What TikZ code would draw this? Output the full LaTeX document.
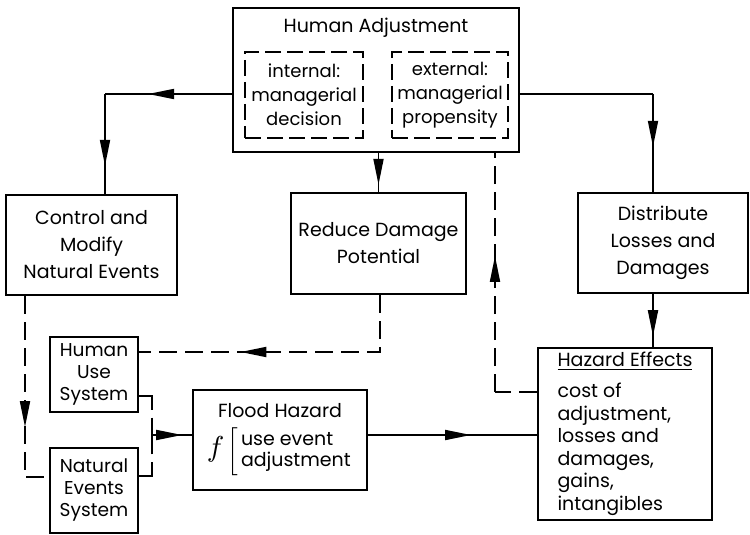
\documentclass[tikz,border=0pt]{standalone}
\usepackage{fontspec}
\setmainfont{Poppins}
\usepackage{graphicx}
\usetikzlibrary{arrows.meta,positioning,calc,decorations.markings}

\begin{document}
\begin{tikzpicture}[
    x=0.5pt, y=-0.5pt,
    font=\fontsize{9.5}{13.5}\selectfont,
    box/.style={rectangle, draw, line width=1.3pt, inner sep=0pt, align=center},
    smallbox/.style={box, font=\fontsize{9.3}{11}\selectfont},
    inner/.style={rectangle, draw, line width=1.1pt, dash pattern=on 8pt off 3pt, inner sep=0pt, align=center, font=\fontsize{9}{12}\selectfont},
    flow/.style={line width=0.9pt},
    hint/.style={flow, dash pattern=on 9pt off 4pt},
    midtip/.style={postaction={decorate}, decoration={markings, mark=at position #1 with {\arrow[solid]{Triangle[length=13pt,width=5pt]}}}}
]
    \useasboundingbox (0,0) rectangle (750,535);

    % Human Adjustment
    \node[box, minimum width=143pt, minimum height=72pt] (adjust) at (376,80) {};
    \node (adjtitle) at (376,28) {Human Adjustment};
    \node[inner, minimum width=59pt, minimum height=43pt] (internal) at (304,95) {internal:\\managerial\\decision};
    \node[inner, minimum width=58pt, minimum height=43pt] (external) at (450,95) {external:\\managerial\\propensity};

    % Responses
    \node[box, minimum width=85.5pt, minimum height=50pt] (control) at (91.5,245) {Control and\\Modify\\Natural Events};
    \node[box, minimum width=87.5pt, minimum height=50.5pt] (reduce) at (378.5,243.5) {Reduce Damage\\Potential};
    \node[box, minimum width=85pt, minimum height=50pt] (distribute) at (663,243) {Distribute\\Losses and\\Damages};

    % Systems
    \node[smallbox, minimum width=44pt, minimum height=37.5pt] (human) at (94,374.5) {Human\\Use\\System};
    \node[smallbox, minimum width=44pt, minimum height=42.5pt] (natural) at (94,490.5) {Natural\\Events\\System};

    % Hazard
    \node[box, minimum width=87pt, minimum height=50pt] (flood) at (280,440) {Flood Hazard\\[4pt]\scalebox{1.6}{$f$}$\,\left[\,\def\arraystretch{0.75}\begin{tabular}{@{}l@{}}use event\\adjustment\end{tabular}\right.$};
    \node[box, align=left, minimum width=87pt, minimum height=86pt, font=\fontsize{9.5}{11.3}\selectfont] (effects) at (625,434) {\underline{Hazard Effects}\\[4pt]cost of\\adjustment,\\losses and\\damages,\\gains,\\intangibles};

    % Adjustment choices
    \coordinate (ctlbend) at (105,94);
    \coordinate (disbend) at (653,94);
    \draw[flow, midtip=.66] (adjust.west |- ctlbend) -- (ctlbend);
    \draw[flow, midtip=.72] (ctlbend) -- (ctlbend |- control.north);
    \draw[flow, midtip=.82] (reduce.north |- adjust.south) -- (reduce.north);
    \draw[flow] (adjust.east |- disbend) -- (disbend);
    \draw[flow, midtip=.54] (disbend) -- (disbend |- distribute.north);
    \draw[flow, midtip=.8] (disbend |- distribute.south) -- (disbend |- effects.north);

    % Feedback
    \coordinate (fbbend) at (495,392);
    \draw[hint] (effects.west |- fbbend) -- (fbbend);
    \draw[hint, midtip=.57] (fbbend) -- (fbbend |- adjust.south);
    \coordinate (rdbend) at (380,352);
    \draw[hint, midtip=.66] (reduce.south -| rdbend) -- (rdbend) -- (rdbend -| human.east);
    \coordinate (cnbend) at (25,477);
    \draw[hint, midtip=.64] (control.south -| cnbend) -- (cnbend) -- (cnbend -| natural.west);

    % Into the hazard
    \coordinate (join) at (152,435);
    \draw[flow, dash pattern=on 13pt off 4pt] ($(human.south east)+(0,-17)$) -| (join);
    \draw[flow, dash pattern=on 13pt off 4pt] ($(natural.north east)+(0,29)$) -| (join);
    \draw[flow, midtip=.76] (join) -- (join -| flood.west);
    \draw[flow, midtip=.61] (flood.east |- join) -- (effects.west |- join);

\end{tikzpicture}
\end{document}
